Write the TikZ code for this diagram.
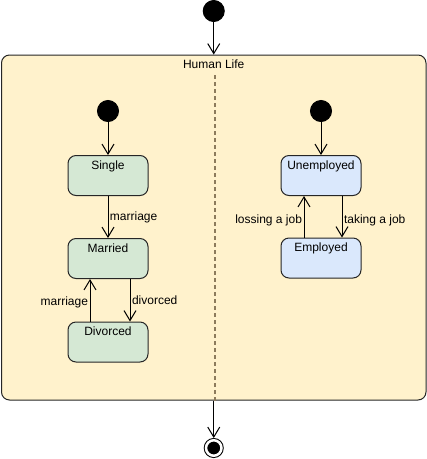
\documentclass[tikz,border=0pt]{standalone}
\usepackage{fontspec}
\setmainfont{Liberation Sans}
\usetikzlibrary{arrows.meta}
\definecolor{lifeyellow}{HTML}{FFF2CC}
\definecolor{marriedgreen}{HTML}{D5E8D4}
\definecolor{jobblue}{HTML}{DAE8FC}
\definecolor{dividerbrown}{HTML}{8C7B5C}

\begin{document}
\begin{tikzpicture}
	[%
	x=1pt, y=-1pt, line width=1pt,
	>={Straight Barb[length=10pt,width=12pt]},
	every node/.style={font=\fontsize{12}{14}\selectfont},%
	startdot/.style={circle,		draw=black,		fill=black,			inner sep=0pt,	minimum size=21pt},%
	enddot/.style  ={circle,		draw=black,		fill=black,			inner sep=0pt,	minimum size=15.5pt,	line width=1pt,	double=white,	double distance=2.5pt,	outer sep=2.25pt},%
	region/.style  ={rectangle,	draw=black!85,	fill=lifeyellow,	inner sep=0pt,	rounded corners=8pt,	minimum width=424.5pt,	text height=13.3pt,	text depth=331.7pt},%
	stage/.style   ={rectangle,	draw=black!85,	inner sep=0pt,		rounded corners=8pt,	minimum width=80pt,	text height=13.5pt,	text depth=26.5pt},%
	divider/.style ={draw=dividerbrown,	line width=1.5pt,	dash pattern=on 4pt off 3pt},%
	tag/.style     ={inner sep=1.5pt},%
	]

	\useasboundingbox (0,0) rectangle (427,459);

	\newcommand{\xmid}{213.75}
	\newcommand{\xmar}{108}
	\newcommand{\xjob}{321}

	% nodes
	\node (life) at (\xmid,227.5) [region] {Human Life};

	\foreach \name/\x/\y in {starttop/\xmid/11, startmar/\xmar/111, startjob/\xjob/111}
		\node (\name) at (\x,\y) [startdot] {};

	\foreach \name/\y/\txt in {single/175.5/Single, married/258.5/Married, divorced/342/Divorced}
		\node (\name) at (\xmar,\y) [stage, fill=marriedgreen] {\txt};

	\foreach \name/\y/\txt in {unemployed/175.5/Unemployed, employed/258/Employed}
		\node (\name) at (\xjob,\y) [stage, fill=jobblue] {\txt};

	\node (end) at (\xmid,448) [enddot] {};

	\coordinate (divtop) at (215,75);
	\draw [divider] (divtop) -- (divtop |- life.south);

	% interconnections
	\draw [->] (starttop) -- (life.north);
	\draw [->] (startmar) -- (single);
	\draw [->] (startjob) -- (unemployed);

	\draw [->] (single) -- node [tag, right] {marriage} (married);
	\draw [->] ([xshift=22pt]married.south) -- node [tag, right, pos=0.51] {divorced} ([xshift=22pt]divorced.north);
	\draw [->] ([xshift=-18pt]divorced.north) -- node [tag, left, pos=0.45] {marriage} ([xshift=-18pt]married.south);

	\draw [->] ([xshift=-17pt]employed.north) -- node [tag, left, pos=0.42] {lossing a job} ([xshift=-17pt]unemployed.south);
	\draw [->] ([xshift=21pt]unemployed.south) -- node [tag, right, pos=0.58] {taking a job} ([xshift=21pt]employed.north);

	\draw [->] (life.south) -- (end);

\end{tikzpicture}
\end{document}
